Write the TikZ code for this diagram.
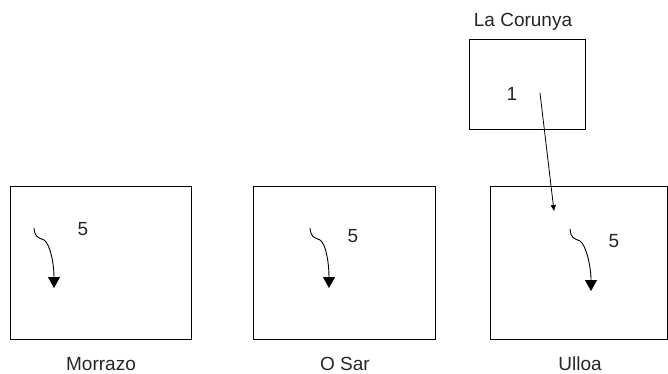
\documentclass[tikz,border=0pt]{standalone}
\usepackage{fontspec}
\setmainfont{Liberation Sans}
\usetikzlibrary{arrows.meta}
\begin{document}
\begin{tikzpicture}[x=1pt,y=-1pt,
  every node/.style={font=\fontsize{19}{22}\selectfont,text=black!85},
  region/.style={draw,line width=0.9pt,inner sep=0pt,minimum height=153pt},
  place/.style={anchor=base,inner sep=0pt},
  swirl/.style={line width=0.9pt,-{Triangle[length=11pt,width=12pt]}}]
  \useasboundingbox (0,0) rectangle (668,373);
  % regions
  \node [region,minimum width=181pt] (morrazo) at (100.5,262.5) {};
  \node [region,minimum width=182pt] (osar)    at (344,262.5) {};
  \node [region,minimum width=177pt] (ulloa)   at (578.5,262.5) {};
  \node [region,minimum width=116pt,minimum height=90pt] (corunya) at (527,84) {};
  \node [place] (lmorrazo) at (101,370) {Morrazo};
  \node [place] (losar)    at (345,370) {O Sar};
  \node [place] (lulloa)   at (580,370) {Ulloa};
  \node [place] (lcorunya) at (523,26.5) {La Corunya};
  % counts
  \node (nmorrazo) at (83,229)  {5};
  \node (nosar)    at (353,236) {5};
  \node (nulloa)   at (614,241) {5};
  \node (ncorunya) at (512,94)  {1};
  % flows
  \coordinate (ms) at (34,228);  \coordinate (me) at (54,288);
  \coordinate (os) at (310,228); \coordinate (oe) at (329,288);
  \coordinate (us) at (570,229); \coordinate (ue) at (591,291);
  \draw [swirl] (ms) .. controls +(1,9) and +(-7,-3) .. ++(10,12) .. controls +(6,4) and +(0,-25) .. (me);
  \draw [swirl] (os) .. controls +(1,9) and +(-7,-3) .. ++(10,12) .. controls +(6,4) and +(0,-25) .. (oe);
  \draw [swirl] (us) .. controls +(1,9) and +(-7,-3) .. ++(10,12) .. controls +(6,4) and +(0,-25) .. (ue);
  \coordinate (cs) at (540,93); \coordinate (ce) at (554,211);
  \draw [line width=0.8pt,-{Triangle[length=6pt,width=5pt]}] (cs) -- (ce);
\end{tikzpicture}
\end{document}
